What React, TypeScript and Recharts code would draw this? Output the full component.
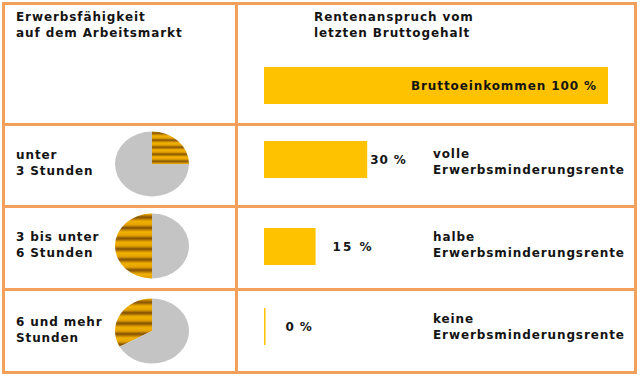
import React from 'react';
import { Bar, BarChart, Cell, LabelList, Pie, PieChart, XAxis, YAxis } from 'recharts';

// Erwerbsfähigkeit (Stunden pro Tag) und Anteil als Tortenstück
const erwerbsLabels = [
  ['unter', '3 Stunden'],
  ['3 bis unter', '6 Stunden'],
  ['6 und mehr', 'Stunden'],
];
const erwerbsAnteil = [25, 50, 33];

// Rentenanspruch in % vom letzten Bruttogehalt
const rentenNamen = ['Bruttoeinkommen', 'volle', 'halbe', 'keine'];
const rentenWerte = [100, 30, 15, 0];
const rentenArten = [
  ['volle', 'Erwerbsminderungsrente'],
  ['halbe', 'Erwerbsminderungsrente'],
  ['keine', 'Erwerbsminderungsrente'],
];

const ORANGE = '#F3A05C';
const GOLD = '#FFC200';
const GRAU = '#C4C4C4';
const FONT = '"DejaVu Sans", Verdana, sans-serif';

const textStyle: React.CSSProperties = {
  position: 'absolute',
  fontFamily: FONT,
  fontSize: 12,
  fontWeight: 'bold',
  letterSpacing: 0.9,
  lineHeight: '15.5px',
  color: '#141414',
  whiteSpace: 'nowrap',
};

// layout
const barTops = [67, 141, 228, 308];
const labelOffsets = [11, 3, 17, 20];
const pieCentersY = [163.5, 245.5, 331];
const streifenHoehe = [8, 12, 12];
const pieClockwise = [true, false, false];
const leftLabelTops = [148, 230, 315];
const rightLabelTops = [147, 230, 312];

const Linie = ({ x, y, w, h }: { x: number; y: number; w: number; h: number }) => (
  <div style={{ position: 'absolute', left: x, top: y, width: w, height: h, background: ORANGE }} />
);

const RentenBalken = ({ idx }: { idx: number }) => {
  const wert = rentenWerte[idx];
  const data = [
    {
      name: rentenNamen[idx],
      wert,
      label: idx === 0 ? `${rentenNamen[idx]} ${wert} %` : `${wert} %`,
    },
  ];
  const inside = idx === 0;
  return (
    <div style={{ position: 'absolute', left: 264, top: barTops[idx] }}>
      <BarChart
        width={344}
        height={37}
        data={data}
        layout="vertical"
        margin={{ top: 0, right: 0, bottom: 0, left: 0 }}
        barCategoryGap={0}
        style={{ overflow: 'visible' }}
      >
        <XAxis type="number" domain={[0, 100]} hide />
        <YAxis type="category" dataKey="name" hide />
        <Bar dataKey="wert" fill={GOLD} isAnimationActive={false} minPointSize={1.5}>
          <LabelList
            dataKey="label"
            content={(p: any) => {
              const x = inside ? p.x + p.width - labelOffsets[idx] : p.x + p.width + labelOffsets[idx];
              return (
                <text
                  x={x}
                  y={p.y + p.height / 2 + 4}
                  textAnchor={inside ? 'end' : 'start'}
                  style={{
                    fontFamily: FONT,
                    fontSize: 12,
                    fontWeight: 'bold',
                    letterSpacing: idx === 2 ? 2 : 0.9,
                    fill: '#141414',
                  }}
                >
                  {p.value}
                </text>
              );
            }}
          />
        </Bar>
      </BarChart>
    </div>
  );
};

const ErwerbsTorte = ({ idx }: { idx: number }) => {
  const anteil = erwerbsAnteil[idx];
  const data = [
    { name: 'erwerbsfähig', value: anteil },
    { name: 'rest', value: 100 - anteil },
  ];
  const h = streifenHoehe[idx];
  return (
    <div
      style={{
        position: 'absolute',
        left: 112,
        top: pieCentersY[idx] - 40,
        width: 80,
        height: 80,
        transform: 'scaleY(0.88)',
      }}
    >
      <PieChart width={80} height={80} margin={{ top: 0, right: 0, bottom: 0, left: 0 }}>
        <defs>
          <linearGradient id={`verlauf-${idx}`} x1="0" y1="0" x2="0" y2="1">
            <stop offset="0%" stopColor="#F2B300" />
            <stop offset="35%" stopColor="#E3A000" />
            <stop offset="62%" stopColor="#7C4D04" />
            <stop offset="85%" stopColor="#CF9000" />
            <stop offset="100%" stopColor="#F2B300" />
          </linearGradient>
          <pattern id={`streifen-${idx}`} patternUnits="userSpaceOnUse" width={10} height={h}>
            <rect width={10} height={h} fill={`url(#verlauf-${idx})`} />
          </pattern>
        </defs>
        <Pie
          data={data}
          dataKey="value"
          cx={40}
          cy={40}
          outerRadius={37}
          startAngle={90}
          endAngle={pieClockwise[idx] ? -270 : 450}
          stroke="none"
          isAnimationActive={false}
        >
          <Cell fill={`url(#streifen-${idx})`} />
          <Cell fill={GRAU} />
        </Pie>
      </PieChart>
    </div>
  );
};

export default function App() {
  return (
    <div
      style={{
        position: 'absolute',
        left: 0,
        top: 0,
        width: 640,
        height: 377,
        background: '#fff',
        overflow: 'hidden',
      }}
    >
      {/* Tabellenrahmen */}
      <Linie x={2} y={2} w={635} h={3} />
      <Linie x={2} y={371} w={635} h={3} />
      <Linie x={2} y={2} w={3} h={372} />
      <Linie x={634} y={2} w={3} h={372} />
      <Linie x={235} y={2} w={3} h={372} />
      <Linie x={2} y={123} w={635} h={3} />
      <Linie x={2} y={205} w={635} h={3} />
      <Linie x={2} y={288} w={635} h={3} />

      <div style={{ ...textStyle, left: 16, top: 10 }}>
        Erwerbsfähigkeit
        <br />
        auf dem Arbeitsmarkt
      </div>
      <div style={{ ...textStyle, left: 314, top: 10 }}>
        Rentenanspruch vom
        <br />
        letzten Bruttogehalt
      </div>

      {erwerbsLabels.map((l, i) => (
        <div key={i} style={{ ...textStyle, left: 16, top: leftLabelTops[i] }}>
          {l[0]}
          <br />
          {l[1]}
        </div>
      ))}

      {rentenArten.map((l, i) => (
        <div key={i} style={{ ...textStyle, left: 433, top: rightLabelTops[i] }}>
          {l[0]}
          <br />
          {l[1]}
        </div>
      ))}

      {erwerbsAnteil.map((_, i) => (
        <ErwerbsTorte key={i} idx={i} />
      ))}

      {rentenWerte.map((_, i) => (
        <RentenBalken key={i} idx={i} />
      ))}
    </div>
  );
}
